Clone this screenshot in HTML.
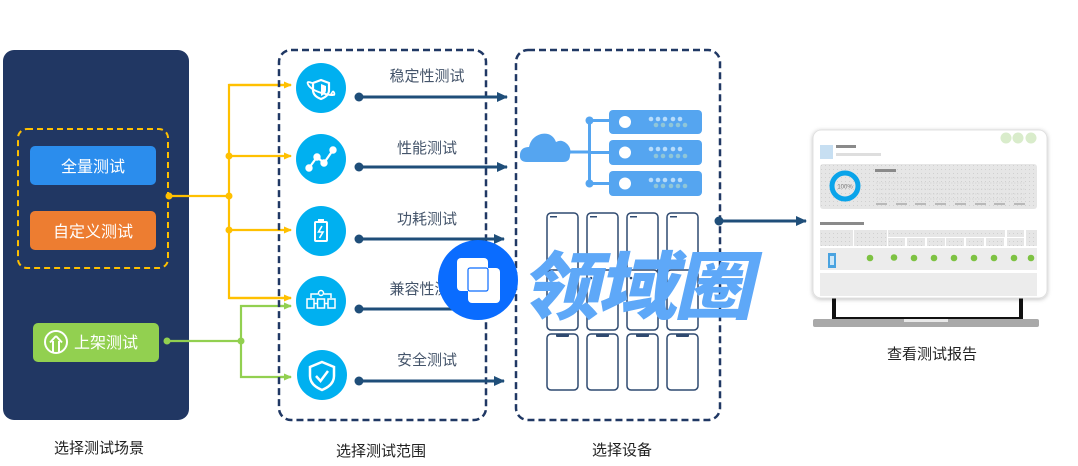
<!DOCTYPE html>
<html><head><meta charset="utf-8">
<style>
html,body{margin:0;padding:0;background:#fff;}
svg{display:block;}
text{font-family:"Liberation Sans","Noto Sans CJK SC",sans-serif;}
</style></head>
<body>
<svg width="1078" height="466" viewBox="0 0 1078 466" xmlns="http://www.w3.org/2000/svg">
<defs>
  <marker id="ay" markerWidth="8" markerHeight="8" refX="7" refY="4" orient="auto" markerUnits="userSpaceOnUse"><path d="M0,0.5 L8,4 L0,7.5 Z" fill="#ffc000"/></marker>
  <marker id="ag" markerWidth="8" markerHeight="8" refX="7" refY="4" orient="auto" markerUnits="userSpaceOnUse"><path d="M0,0.5 L8,4 L0,7.5 Z" fill="#92d050"/></marker>
  <marker id="ab" markerWidth="11" markerHeight="10" refX="10" refY="5" orient="auto" markerUnits="userSpaceOnUse"><path d="M0,0 L11,5 L0,10 Z" fill="#1f4e79"/></marker>
  <filter id="sh" x="-10%" y="-10%" width="120%" height="120%"><feDropShadow dx="0" dy="1" stdDeviation="2" flood-color="#000" flood-opacity="0.25"/></filter>
  <pattern id="dots" width="4" height="4" patternUnits="userSpaceOnUse"><rect width="4" height="4" fill="#e6e6e6"/><rect x="1" y="1" width="1" height="1" fill="#d0d0d0"/></pattern>
</defs>

<!-- Left panel -->
<rect x="3" y="50" width="186" height="370" rx="11" fill="#213763"/>
<rect x="18" y="129" width="150" height="139" rx="9" fill="none" stroke="#ffc000" stroke-width="2" stroke-dasharray="6 4"/>
<rect x="30" y="146" width="126" height="39" rx="5" fill="#2b8ded"/>
<text x="93" y="172" font-size="16" fill="#fff" text-anchor="middle">全量测试</text>
<rect x="30" y="211" width="126" height="39" rx="5" fill="#ed7d31"/>
<text x="93" y="237" font-size="16" fill="#fff" text-anchor="middle">自定义测试</text>
<rect x="33" y="323" width="126" height="39" rx="5" fill="#92d050"/>
<circle cx="56" cy="342" r="11" fill="none" stroke="#fff" stroke-width="2"/>
<path d="M56,336 L50,342.5 M56,336 L62,342.5 M53,341 L53,352 M59,341 L59,352" stroke="#fff" stroke-width="2" fill="none"/>
<text x="106" y="348" font-size="16" fill="#fff" text-anchor="middle">上架测试</text>

<!-- Yellow connectors -->
<g stroke="#ffc000" stroke-width="2.2" fill="none">
  <line x1="168" y1="196" x2="229" y2="196"/>
  <polyline points="291,85 229,85 229,298 291,298"/>
  <line x1="229" y1="156" x2="291" y2="156" marker-end="url(#ay)"/>
  <line x1="229" y1="230" x2="291" y2="230" marker-end="url(#ay)"/>
  <line x1="229" y1="85" x2="291" y2="85" marker-end="url(#ay)"/>
  <line x1="229" y1="298" x2="291" y2="298" marker-end="url(#ay)"/>
</g>
<g fill="#ffc000">
  <circle cx="169" cy="196" r="3.5"/><circle cx="229" cy="156" r="3.5"/><circle cx="229" cy="196" r="3.5"/><circle cx="229" cy="230" r="3.5"/>
</g>
<!-- Green connectors -->
<g stroke="#92d050" stroke-width="2.2" fill="none">
  <line x1="167" y1="341" x2="241" y2="341"/>
  <polyline points="291,306 241,306 241,377 291,377"/>
  <line x1="280" y1="306" x2="291" y2="306" marker-end="url(#ag)"/>
  <line x1="280" y1="377" x2="291" y2="377" marker-end="url(#ag)"/>
</g>
<circle cx="167" cy="341" r="3.5" fill="#92d050"/><circle cx="241" cy="341" r="3.5" fill="#92d050"/>

<!-- Middle dashed box -->
<rect x="279" y="50" width="207" height="370" rx="12" fill="none" stroke="#203864" stroke-width="2.5" stroke-dasharray="7 4"/>
<!-- Right dashed box -->
<rect x="516" y="50" width="204" height="370" rx="12" fill="none" stroke="#203864" stroke-width="2.5" stroke-dasharray="7 4"/>

<!-- Circles with icons -->
<g fill="#00b0f0">
  <circle cx="321" cy="88" r="25"/>
  <circle cx="321" cy="159" r="25"/>
  <circle cx="321" cy="231" r="25"/>
  <circle cx="321" cy="301" r="25"/>
  <circle cx="322" cy="375" r="25"/>
</g>
<!-- icon 1 stability -->
<g stroke="#fff" stroke-width="2" fill="none">
  <path d="M321,80 L329,83 L329,90 Q329,96 321,99 Q313,96 313,90 L313,83 Z" stroke-width="2.2"/>
  <path d="M321,84 L326,86 L326,90 Q326,94 321,96 Z" fill="#fff" stroke="none"/>
  <path d="M312,83 Q305,80 309,86 Q314,92 330,95 Q337,96 333,91" stroke-width="1.8"/>
  <path d="M333,91 L331,94 L335,95" stroke-width="1.5"/>
</g>
<!-- icon 2 performance -->
<g stroke="#fff" stroke-width="2.2" fill="#fff">
  <polyline points="309,168 317,157 324,163 333,150" fill="none"/>
  <circle cx="309" cy="168" r="2.6"/><circle cx="317" cy="157" r="2.6"/><circle cx="324" cy="163" r="2.6"/><circle cx="333" cy="150" r="2.6"/>
</g>
<!-- icon 3 battery -->
<g stroke="#fff" stroke-width="2" fill="none">
  <rect x="315" y="222" width="12" height="19" rx="1"/>
  <rect x="318" y="219" width="6" height="3" fill="#fff" stroke="none"/>
  <path d="M322,226 L318.5,232 L323,232 L319.5,238" stroke-width="1.6"/>
</g>
<!-- icon 4 org -->
<g stroke="#fff" stroke-width="1.5" fill="none">
  <circle cx="321" cy="293" r="2.5"/>
  <polyline points="311,298 311,294 318,294"/><polyline points="324,294 331,294 331,298"/>
  <rect x="307" y="299" width="7" height="9"/><rect x="317.5" y="299" width="7" height="9"/><rect x="328" y="299" width="7" height="9"/>
  <line x1="314" y1="303.5" x2="317.5" y2="303.5"/><line x1="324.5" y1="303.5" x2="328" y2="303.5"/>
</g>
<!-- icon 5 shield check -->
<g fill="none" stroke="#fff">
  <path d="M322,362 L334,367 L334,376 Q334,385 322,390 Q310,385 310,376 L310,367 Z" stroke-width="2.5"/>
  <path d="M316,376 L320.5,381 L328,371" stroke-width="2.5"/>
</g>

<!-- Labels -->
<g font-size="15" fill="#44546a" text-anchor="middle">
  <text x="427" y="81">稳定性测试</text>
  <text x="427" y="153">性能测试</text>
  <text x="427" y="224">功耗测试</text>
  <text x="427" y="294">兼容性测试</text>
  <text x="427" y="365">安全测试</text>
</g>
<!-- Dark blue arrows -->
<g stroke="#1f4e79" stroke-width="3" fill="none">
  <line x1="359" y1="97" x2="507" y2="97" marker-end="url(#ab)"/>
  <line x1="359" y1="167" x2="507" y2="167" marker-end="url(#ab)"/>
  <line x1="359" y1="239" x2="504" y2="239" marker-end="url(#ab)"/>
  <line x1="359" y1="309" x2="504" y2="309" marker-end="url(#ab)"/>
  <line x1="359" y1="381" x2="504" y2="381" marker-end="url(#ab)"/>
  <line x1="719" y1="221" x2="806" y2="221" marker-end="url(#ab)"/>
</g>
<g fill="#1f4e79">
  <circle cx="359" cy="97" r="4.5"/><circle cx="359" cy="167" r="4.5"/><circle cx="359" cy="239" r="4.5"/><circle cx="359" cy="309" r="4.5"/><circle cx="359" cy="381" r="4.5"/><circle cx="719" cy="221" r="4.5"/>
</g>

<!-- Cloud + servers -->
<g fill="#55a5f0">
  <path d="M527,162 Q519,162 520,154 Q521,147 529,147 Q531,137 541,134 Q552,132 556,142 Q561,139 566,143 Q572,148 570,155 Q570,162 563,162 Z"/>
  <rect x="569" y="150.5" width="20" height="3"/>
  <rect x="588" y="120" width="3" height="64"/>
  <rect x="589" y="119" width="20" height="3"/>
  <rect x="589" y="151" width="20" height="3"/>
  <rect x="589" y="182" width="20" height="3"/>
  <circle cx="589.5" cy="120.5" r="4"/><circle cx="589.5" cy="183.5" r="4"/>
  <rect x="609" y="110" width="93" height="24" rx="4"/>
  <rect x="609" y="140" width="93" height="25" rx="4"/>
  <rect x="609" y="171" width="93" height="25" rx="4"/>
</g>
<g fill="#fff"><circle cx="625" cy="122" r="6"/><circle cx="625" cy="152.5" r="6"/><circle cx="625" cy="183.5" r="6"/></g>
<g fill="#b7dcfb">
  <circle cx="651" cy="119" r="2.3"/><circle cx="658" cy="119" r="2.3"/><circle cx="665" cy="119" r="2.3"/><circle cx="673" cy="119" r="2.3"/><circle cx="680" cy="119" r="2.3"/>
  <circle cx="651" cy="149" r="2.3"/><circle cx="658" cy="149" r="2.3"/><circle cx="665" cy="149" r="2.3"/><circle cx="673" cy="149" r="2.3"/><circle cx="680" cy="149" r="2.3"/>
  <circle cx="651" cy="180" r="2.3"/><circle cx="658" cy="180" r="2.3"/><circle cx="665" cy="180" r="2.3"/><circle cx="673" cy="180" r="2.3"/><circle cx="680" cy="180" r="2.3"/>
</g>
<g fill="#8fc6d8">
  <circle cx="656" cy="125" r="2.3"/><circle cx="663" cy="125" r="2.3"/><circle cx="671" cy="125" r="2.3"/><circle cx="678" cy="125" r="2.3"/><circle cx="685" cy="125" r="2.3"/>
  <circle cx="656" cy="156" r="2.3"/><circle cx="663" cy="156" r="2.3"/><circle cx="671" cy="156" r="2.3"/><circle cx="678" cy="156" r="2.3"/><circle cx="685" cy="156" r="2.3"/>
  <circle cx="656" cy="186" r="2.3"/><circle cx="663" cy="186" r="2.3"/><circle cx="671" cy="186" r="2.3"/><circle cx="678" cy="186" r="2.3"/><circle cx="685" cy="186" r="2.3"/>
</g>

<!-- Phones -->
<g fill="#fff" stroke="#2f4a70" stroke-width="1.5">
  <rect x="547" y="213" width="31" height="60" rx="4"/><rect x="587" y="213" width="31" height="60" rx="4"/><rect x="627" y="213" width="31" height="60" rx="4"/><rect x="667" y="213" width="31" height="60" rx="4"/>
  <rect x="547" y="270" width="31" height="60" rx="4"/><rect x="587" y="270" width="31" height="60" rx="4"/><rect x="627" y="270" width="31" height="60" rx="4"/><rect x="667" y="270" width="31" height="60" rx="4"/>
  <rect x="547" y="334" width="31" height="56" rx="4"/><rect x="587" y="334" width="31" height="56" rx="4"/><rect x="627" y="334" width="31" height="56" rx="4"/><rect x="667" y="334" width="31" height="56" rx="4"/>
</g>
<g fill="#2f4a70">
  <rect x="550" y="216" width="7" height="1.5"/><rect x="590" y="216" width="7" height="1.5"/><rect x="630" y="216" width="7" height="1.5"/><rect x="670" y="216" width="7" height="1.5"/>
  <circle cx="551" cy="278" r="1.3"/><circle cx="591" cy="278" r="1.3"/><circle cx="631" cy="278" r="1.3"/><circle cx="671" cy="278" r="1.3"/>
  <rect x="556" y="334" width="13" height="3" rx="1"/><rect x="596" y="334" width="13" height="3" rx="1"/><rect x="636" y="334" width="13" height="3" rx="1"/><rect x="676" y="334" width="13" height="3" rx="1"/>
</g>

<!-- Laptop -->
<rect x="832" y="294" width="191" height="27" fill="#111"/>
<rect x="836" y="296" width="183" height="21" fill="#fff"/>
<rect x="813" y="319" width="226" height="8" rx="2" fill="#a9a9a9"/>
<rect x="904" y="319" width="44" height="3" fill="#e8e8e8"/>
<rect x="813" y="130" width="234" height="168" rx="8" fill="#fff" stroke="#e0e0e0" stroke-width="1" filter="url(#sh)"/>
<g fill="#d9eccb"><circle cx="1006" cy="138" r="5.5"/><circle cx="1018" cy="138" r="5.5"/><circle cx="1031" cy="138" r="5.5"/></g>
<rect x="820" y="145" width="13" height="14" fill="#c7dff2"/>
<rect x="836" y="145" width="20" height="3" fill="#8a8a8a"/>
<rect x="836" y="153" width="45" height="3" fill="#dedede"/>
<rect x="820" y="164" width="217" height="45" rx="3" fill="url(#dots)"/>
<circle cx="845" cy="186" r="13" fill="none" stroke="#0aa4ea" stroke-width="5"/>
<text x="845" y="188.5" font-size="6" fill="#777" text-anchor="middle">100%</text>
<rect x="875" y="169" width="21" height="3" fill="#8a8a8a"/>
<g stroke="#cfcfcf" stroke-width="0.8" stroke-dasharray="1.5 1.5">
  <line x1="876" y1="178" x2="1026" y2="178"/><line x1="876" y1="183" x2="1026" y2="183"/><line x1="876" y1="189" x2="1026" y2="189"/><line x1="876" y1="194" x2="1026" y2="194"/><line x1="876" y1="199" x2="1026" y2="199"/>
</g>
<g fill="#b9b9b9">
  <rect x="876" y="203" width="11" height="2"/><rect x="896" y="203" width="11" height="2"/><rect x="915" y="203" width="11" height="2"/><rect x="935" y="203" width="11" height="2"/><rect x="955" y="203" width="11" height="2"/><rect x="975" y="203" width="11" height="2"/><rect x="994" y="203" width="11" height="2"/><rect x="1014" y="203" width="11" height="2"/>
</g>
<rect x="820" y="222" width="44" height="3" fill="#8a8a8a"/>
<g fill="url(#dots)">
  <rect x="820" y="230" width="33" height="16"/><rect x="854" y="230" width="33" height="16"/><rect x="888" y="230" width="117" height="7"/>
  <rect x="888" y="238" width="17" height="8"/><rect x="907" y="238" width="18" height="8"/><rect x="927" y="238" width="18" height="8"/><rect x="946" y="238" width="18" height="8"/><rect x="966" y="238" width="18" height="8"/><rect x="986" y="238" width="18" height="8"/>
  <rect x="1007" y="230" width="17" height="7"/><rect x="1007" y="238" width="17" height="8"/><rect x="1026" y="230" width="11" height="16"/>
</g>
<rect x="820" y="248" width="217" height="22" fill="#ececec"/>
<rect x="828" y="253" width="8" height="15" fill="#4aa3e0"/><rect x="830" y="256" width="4" height="9" fill="#cde7f8"/>
<g fill="#7dc242">
  <circle cx="870" cy="258" r="3.3"/><circle cx="894" cy="257.5" r="3.3"/><circle cx="914" cy="258" r="3.3"/><circle cx="934" cy="258" r="3.3"/><circle cx="954" cy="258" r="3.3"/><circle cx="974" cy="258" r="3.3"/><circle cx="994" cy="258" r="3.3"/><circle cx="1014" cy="258" r="3.3"/><circle cx="1031" cy="258" r="3.3"/>
</g>
<rect x="820" y="273" width="217" height="23" fill="#ececec"/>

<!-- Bottom labels -->
<g font-size="15" fill="#222" text-anchor="middle">
  <text x="99" y="453">选择测试场景</text>
  <text x="381" y="456">选择测试范围</text>
  <text x="622" y="455">选择设备</text>
  <text x="932" y="359">查看测试报告</text>
</g>

<!-- Watermark -->
<circle cx="478" cy="280" r="40" fill="#0a6cff"/>
<rect x="457" y="258" width="31" height="33" rx="4" fill="#fff"/>
<rect x="468" y="268" width="32" height="35" rx="4" fill="#fff"/>
<rect x="468" y="268" width="20" height="23" rx="2" fill="none" stroke="#0a6cff" stroke-width="1.2"/>
<g transform="translate(520,313) scale(1.08,1) skewX(-12)">
  <text x="0" y="0" font-size="74" font-weight="900" fill="#5ea8f8" style="font-family:'Noto Sans CJK SC','WenQuanYi Zen Hei',sans-serif;" letter-spacing="-3">领域圈</text>
</g>
</svg>
</body></html>
